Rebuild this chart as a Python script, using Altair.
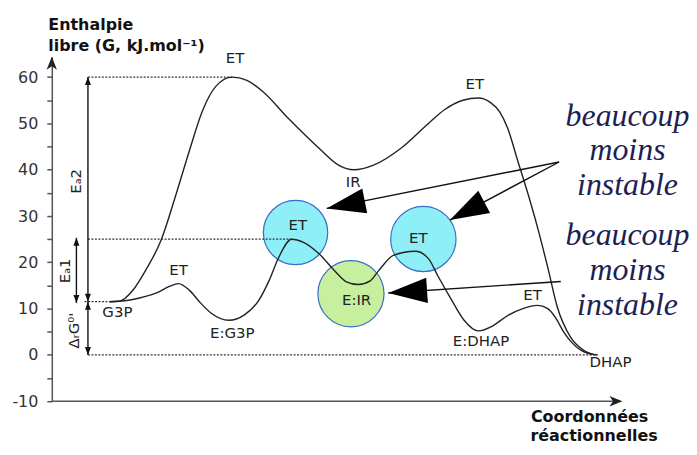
import math
import altair as alt
import pandas as pd

# ---------------- data ----------------
# x: reaction coordinate (arbitrary 0-100), g: free enthalpy in kJ/mol
uncat_x = [10.2, 12.0, 14.3, 16.7, 19.3, 22.0, 24.3, 26.6, 29.0, 31.9, 34.5, 37.2,
           41.9, 47.2, 50.7, 53.4, 56.9, 61.8, 66.6, 69.5, 72.7, 75.4, 77.6, 79.2,
           80.6, 82.4, 84.2, 85.9, 87.7, 89.4, 91.7, 93.8, 96.0]
uncat_g = [11.5, 11.6, 13.9, 18.5, 24.7, 34.8, 44.0, 52.6, 58.0, 60.0, 59.3, 57.0,
           51.0, 44.7, 41.0, 40.0, 41.0, 44.7, 50.0, 53.0, 55.0, 55.5, 54.5, 52.5,
           49.0, 41.9, 34.8, 27.5, 18.9, 10.3, 3.9, 1.2, 0.0]

cat_x = [10.2, 12.9, 15.5, 18.5, 20.8, 22.4, 24.3, 26.1, 28.2, 31.3, 34.0, 36.6,
         38.4, 40.1, 42.4, 44.5, 47.2, 50.0, 52.1, 54.2, 56.3, 57.8, 60.4, 64.3,
         66.6, 68.3, 70.4, 72.9, 75.4, 78.0, 80.6, 83.3, 85.9, 87.7, 89.1, 90.5,
         92.1, 94.2, 96.5]
cat_g = [11.5, 11.7, 12.3, 13.4, 14.8, 15.4, 14.0, 11.5, 9.0, 7.5, 8.6, 11.8,
         16.0, 21.0, 25.0, 24.3, 21.9, 18.2, 15.8, 15.2, 16.0, 18.2, 21.5, 22.4,
         20.8, 17.0, 12.5, 7.5, 5.2, 6.3, 8.5, 10.0, 10.7, 10.0, 8.0, 5.0,
         2.5, 0.6, 0.0]

state_labels = ["ET", "ET", "IR", "ET", "G3P", "E:G3P", "E:DHAP", "DHAP", "ET"]
state_x = [32.4, 74.8, 53.3, 22.4, 11.6, 31.9, 75.9, 98.8, 85.0]
state_g = [64.2, 58.6, 37.3, 18.4, 9.35, 4.8, 2.9, -1.6, 13.0]

circle_labels = ["ET", "ET", "E:IR"]
circle_x = [43.1, 65.7, 52.9]
circle_g = [26.44, 25.05, 13.22]
circle_r = [36.5, 37.0, 37.5]
circle_fill = ["#8eeff7", "#8eeff7", "#c6f09e"]
circle_text_x = [43.5, 64.8, 53.9]
circle_text_g = [28.06, 25.26, 11.93]

ref_levels = [60, 25, 11.5, 0]
ref_start = [6.39, 6.39, 5.8, 6.39]
ref_end = [31.9, 42.4, 10.2, 96.5]

dim_x = [6.39, 6.39, 4.35]
dim_from = [11.5, 11.5, 11.2]
dim_to = [60, 0, 25.3]
head_x = [6.39, 6.39, 6.39, 6.39, 4.35, 4.35]
head_g = [60, 11.5, 0, 11.5, 25.3, 11.2]
head_dir = [0, 180, 180, 0, 0, 180]

dim_labels = ["Eₐ2", "Eₐ1", "ΔᵣG⁰'"]
dim_label_x = [4.31, 2.29, 3.96]
dim_label_g = [37.5, 18.17, 5.27]

ann_from_x = [89.7, 89.7, 90.0]
ann_from_g = [41.67, 41.67, 15.87]
ann_tip_x = [48.6, 70.4, 59.5]
ann_tip_g = [31.65, 29.13, 13.37]

note_words = ["beaucoup", "moins", "instable", "beaucoup", "moins", "instable"]
note_x = [101.8] * 6
note_g = [51.7, 44.2, 36.66, 25.9, 18.4, 10.86]

xtitle_lines = ["Coordonnées", "réactionnelles"]
xtitle_x = [95.1, 95.9]
xtitle_g = [-14.5, -18.6]

y_ticks = list(range(-10, 61, 5))

# ---------------- layout ----------------
W, H = 568, 346
X_DOM = [0, 100]
Y_DOM = [-10, 64.4]
PX_X = W / (X_DOM[1] - X_DOM[0])
PX_Y = H / (Y_DOM[1] - Y_DOM[0])

x_scale = alt.Scale(domain=X_DOM, nice=False, zero=False)
y_scale = alt.Scale(domain=Y_DOM, nice=False, zero=False)
y_axis = alt.Axis(
    values=y_ticks,
    labelExpr="datum.value % 10 === 0 ? replace(datum.label, '\u2212', '-') : ''",
    grid=False, domainColor="#555", domainWidth=1.5, tickColor="#555",
    tickWidth=1.5, tickSize=5, labelPadding=9, labelFontSize=16,
    labelFont="DejaVu Sans", labelColor="#333",
    title=["Enthalpie", "libre (G, kJ.mol⁻¹)"], titleAngle=0, titleAlign="left",
    titleBaseline="alphabetic", titleX=-4, titleY=-27, titleLineHeight=21,
    titleFont="DejaVu Sans", titleFontSize=16, titleFontWeight="bold",
    titleColor="#111",
)


def X(f):
    return alt.X(f, type="quantitative", scale=x_scale, axis=None)


def Y(f):
    return alt.Y(f, type="quantitative", scale=y_scale, axis=y_axis)


def heading(x0, g0, x1, g1):
    dx = (x1 - x0) * PX_X
    dy = -(g1 - g0) * PX_Y
    return (math.degrees(math.atan2(dx, -dy)) + 360) % 360


HEAD_BIG = "M0,0L-0.65,2L0.65,2Z"
HEAD_SMALL = "M0,0L-0.75,2L0.75,2Z"
HEAD_AXIS = "M0,0L-0.8,2L0,1.45L0.8,2Z"

# ---------------- tables ----------------
curves = pd.DataFrame({
    "x": uncat_x + cat_x,
    "g": uncat_g + cat_g,
    "s": ["u"] * len(uncat_x) + ["c"] * len(cat_x),
})
circles = pd.DataFrame({"x": circle_x, "g": circle_g,
                        "size": [math.pi * r * r for r in circle_r],
                        "fill": circle_fill})
circle_txt = pd.DataFrame({"x": circle_text_x, "g": circle_text_g, "t": circle_labels})
states = pd.DataFrame({"x": state_x, "g": state_g, "t": state_labels})
refs = pd.DataFrame({"x": ref_start, "x2": ref_end, "g": ref_levels})
dims = pd.DataFrame({"x": dim_x, "g": dim_from, "g2": dim_to})
heads = pd.DataFrame({"x": head_x, "g": head_g, "a": head_dir})
dim_txt = pd.DataFrame({"x": dim_label_x, "g": dim_label_g, "t": dim_labels})
ann_lines = pd.DataFrame({"x": ann_from_x, "g": ann_from_g,
                          "x2": ann_tip_x, "g2": ann_tip_g})
ann_heads = pd.DataFrame({"x": ann_tip_x, "g": ann_tip_g,
                          "a": [heading(a, b, c, d) for a, b, c, d in
                                zip(ann_from_x, ann_from_g, ann_tip_x, ann_tip_g)]})
notes = pd.DataFrame({"x": note_x, "g": note_g, "t": note_words})
xtitle = pd.DataFrame({"x": xtitle_x, "g": xtitle_g, "t": xtitle_lines})
xaxis_line = pd.DataFrame({"x": [0], "x2": [100.2], "g": [-10]})
axis_heads = pd.DataFrame({"x": [100.9, 0], "g": [-10, 64.4], "a": [90, 0]})

# ---------------- layers ----------------
circ = alt.Chart(circles).mark_circle(opacity=1, stroke="#3b6cc4", strokeWidth=1.2).encode(
    x=X("x"), y=Y("g"), size=alt.Size("size:Q", scale=None),
    fill=alt.Fill("fill:N", scale=None))

ref_rules = alt.Chart(refs).mark_rule(color="#333", strokeWidth=1.3, strokeDash=[2, 1.5]).encode(
    x=X("x"), x2="x2", y=Y("g"))

lines = alt.Chart(curves).mark_line(interpolate="monotone", color="#222", strokeWidth=1.4).encode(
    x=X("x"), y=Y("g"), detail="s:N")

dim_rules = alt.Chart(dims).mark_rule(color="#111", strokeWidth=1.4).encode(
    x=X("x"), y=Y("g"), y2="g2")

dim_heads = alt.Chart(heads).mark_point(shape=HEAD_SMALL, filled=True, opacity=1,
                                        color="#111", size=64, strokeWidth=0).encode(
    x=X("x"), y=Y("g"), angle=alt.Angle("a:Q", scale=None))

dim_labels_l = alt.Chart(dim_txt).mark_text(angle=270, font="DejaVu Sans", fontSize=15,
                                            color="#222").encode(
    x=X("x"), y=Y("g"), text="t:N")

ann_rules = alt.Chart(ann_lines).mark_rule(color="#111", strokeWidth=1.4).encode(
    x=X("x"), y=Y("g"), x2="x2", y2="g2")

ann_heads_l = alt.Chart(ann_heads).mark_point(shape=HEAD_BIG, filled=True, opacity=1,
                                              color="#000", size=1521, strokeWidth=0).encode(
    x=X("x"), y=Y("g"), angle=alt.Angle("a:Q", scale=None))

xline = alt.Chart(xaxis_line).mark_rule(color="#555", strokeWidth=1.5).encode(
    x=X("x"), x2="x2", y=Y("g"))

axis_heads_l = alt.Chart(axis_heads).mark_point(shape=HEAD_AXIS, filled=True, opacity=1,
                                                color="#222", size=169, strokeWidth=0).encode(
    x=X("x"), y=Y("g"), angle=alt.Angle("a:Q", scale=None))

state_txt = alt.Chart(states).mark_text(font="DejaVu Sans", fontSize=15, color="#222").encode(
    x=X("x"), y=Y("g"), text="t:N")

circ_txt = alt.Chart(circle_txt).mark_text(font="DejaVu Sans", fontSize=15, color="#222").encode(
    x=X("x"), y=Y("g"), text="t:N")

notes_txt = alt.Chart(notes).mark_text(font="Liberation Serif", fontStyle="italic",
                                       fontSize=32, color="#1e1e55").encode(
    x=X("x"), y=Y("g"), text="t:N")

xtitle_txt = alt.Chart(xtitle).mark_text(font="DejaVu Sans", fontWeight="bold", fontSize=16,
                                         baseline="alphabetic", color="#111").encode(
    x=X("x"), y=Y("g"), text="t:N")

chart = alt.layer(
    circ, ref_rules, lines, dim_rules, dim_heads, dim_labels_l, ann_rules, ann_heads_l,
    xline, axis_heads_l, state_txt, circ_txt, notes_txt, xtitle_txt,
).properties(
    width=W, height=H,
    autosize=alt.AutoSizeParams(type="none"),
    padding={"left": 44, "top": 48, "right": 72, "bottom": 45},
    background="white",
).configure_view(stroke=None)

chart.save("out.html", embed_options={"renderer": "svg", "actions": False})
